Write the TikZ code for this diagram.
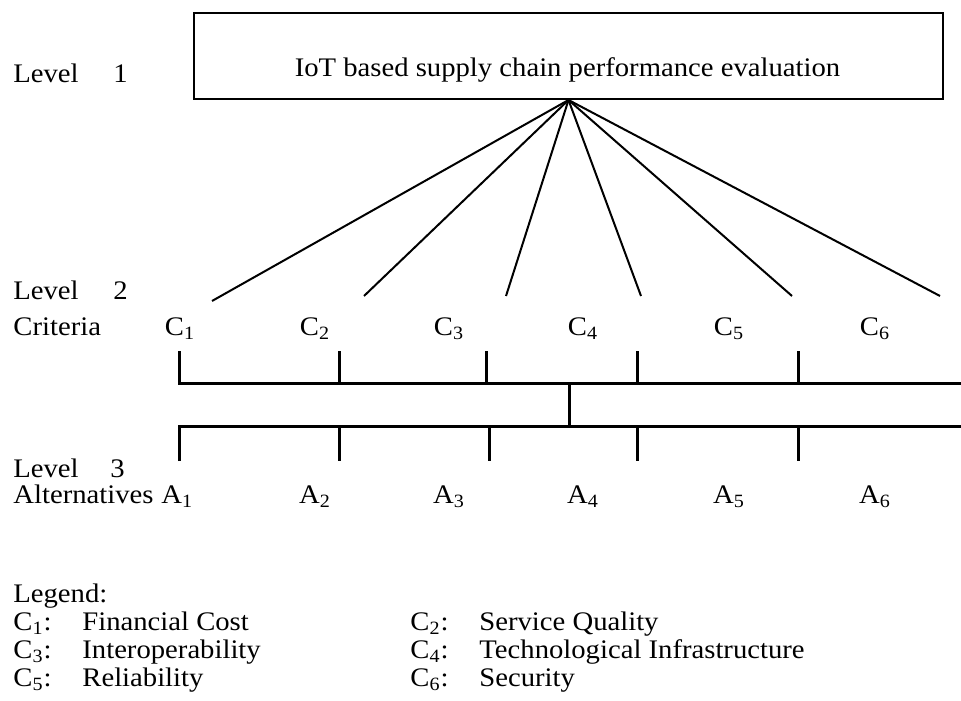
\documentclass[tikz,border=0pt]{standalone}
\usepackage{fontspec}
\setmainfont[FakeStretch=1.07]{Liberation Serif}
\begin{document}
\begin{tikzpicture}[x=0.5pt,y=-0.5pt,
    txt/.style={anchor=base west,inner sep=0pt,font=\fontsize{13.4}{16}\selectfont},
    spoke/.style={line width=1pt},
    bar/.style={line width=1.5pt}]
    \useasboundingbox (0,0) rectangle (961,700);

    %Level 1
    \node[draw,line width=1pt,inner sep=0pt,anchor=north west,
      minimum width=374.5pt,minimum height=43pt] (goal) at (193,12) {};
    \node[txt,anchor=base] (goaltext) at (567.5,77) {IoT based supply chain performance evaluation};
    \node[txt] (lev1) at (13,83) {Level};
    \node[txt] (lev1no) at (113,83) {1};

    %Level 2
    \node[txt] (lev2) at (13,299) {Level};
    \node[txt] (lev2no) at (113,299) {2};
    \node[txt] (crit) at (13,335) {Criteria};
    \foreach \i/\x in {1/180,2/315,3/449,4/583,5/729,6/875}
      \node[txt,anchor=base] (c\i) at (\x,335) {C\textsubscript{\i}};

    %Spokes
    \foreach \i/\x/\y in {1/212/301,2/364/296,3/506/296,4/641/296,5/792/296,6/940/296}{
      \coordinate (s\i) at (\x,\y);
      \draw[spoke] (goal.south) -- (s\i);
    }

    %Bars
    \coordinate (ubl) at (179,383);
    \coordinate (ubr) at (961,383);
    \coordinate (lbl) at (179,426);
    \coordinate (lbr) at (961,426);
    \draw[bar] (179,351) -- (ubl) -- (ubr);
    \draw[bar] (179,461) -- (lbl) -- (lbr);
    \foreach \x in {339,486,637,798}
      \draw[bar] (\x,351) -- (\x,383);
    \foreach \x in {339,489,637,798}
      \draw[bar] (\x,426) -- (\x,461);
    \draw[bar] (569,383) -- (569,426);

    %Level 3
    \node[txt] (lev3) at (13,477) {Level};
    \node[txt] (lev3no) at (110,477) {3};
    \node[txt] (alt) at (13,503) {Alternatives};
    \node[txt] (a1) at (161,503) {A\textsubscript{1}};
    \foreach \i/\x in {2/315,3/449,4/583,5/729,6/875}
      \node[txt,anchor=base] (a\i) at (\x,503) {A\textsubscript{\i}};

    %Legend
    \node[txt] (leg) at (13,602) {Legend:};
    \foreach \i/\x/\y/\t in {1/13/630/Financial Cost,2/410/630/Service Quality,
        3/13/658/Interoperability,4/410/658/Technological Infrastructure,
        5/13/686/Reliability,6/410/686/Security}{
      \node[txt] (k\i) at (\x,\y) {C\textsubscript{\i}:};
      \node[txt] (d\i) at (\x+69,\y) {\t};
    }
\end{tikzpicture}
\end{document}
